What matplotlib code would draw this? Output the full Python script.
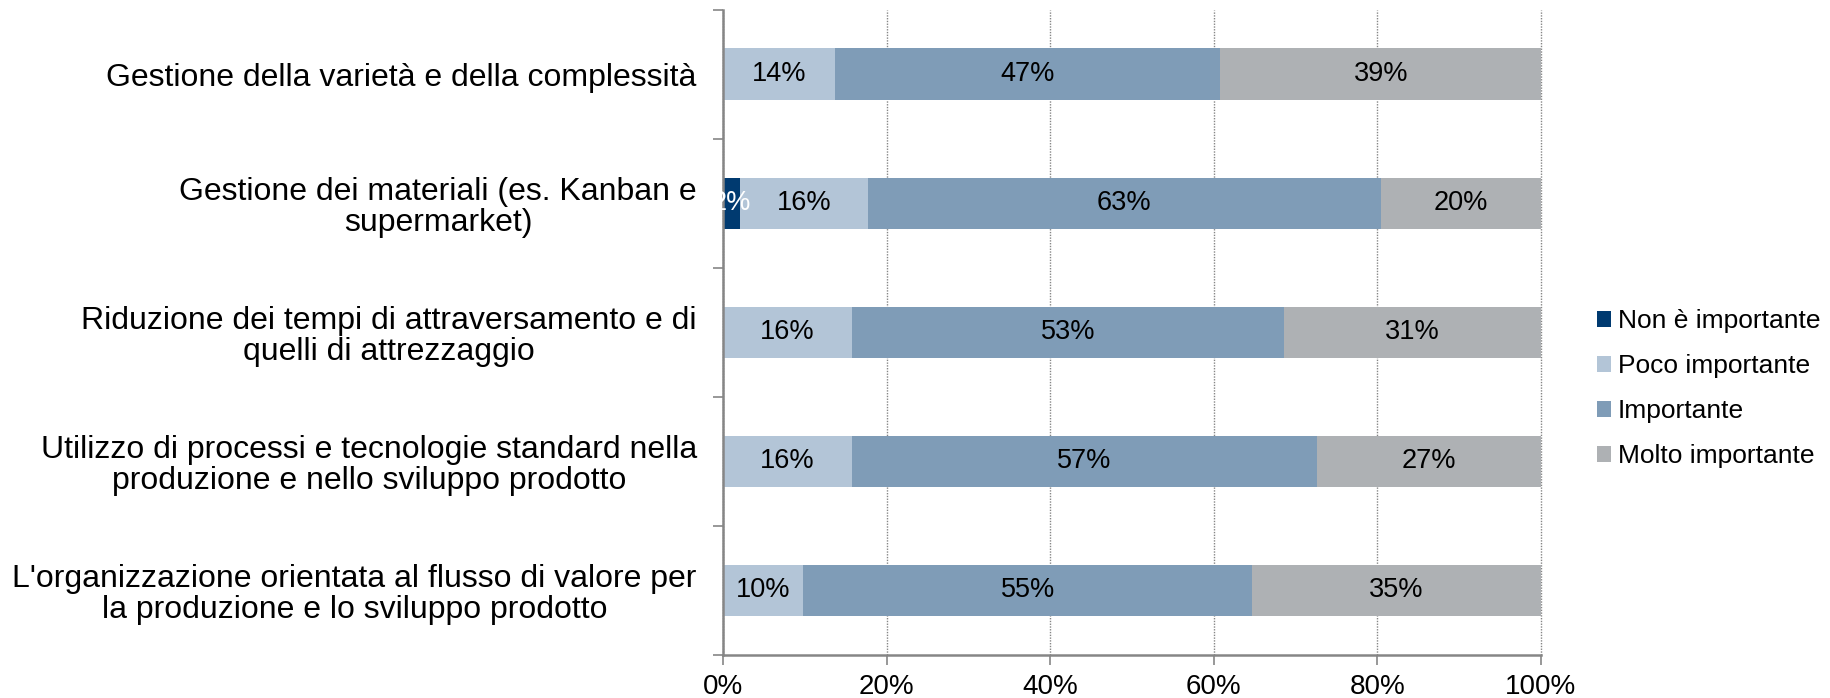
import matplotlib.pyplot as plt
import numpy as np

plt.rcParams['font.family'] = ['Liberation Sans', 'DejaVu Sans']

categories = [
	"Gestione della varietà e della complessità",
	"Gestione dei materiali (es. Kanban e\nsupermarket)",
	"Riduzione dei tempi di attraversamento e di\nquelli di attrezzaggio",
	"Utilizzo di processi e tecnologie standard nella\nproduzione e nello sviluppo prodotto",
	"L'organizzazione orientata al flusso di valore per\nla produzione e lo sviluppo prodotto",
]
series_names = ["Non è importante", "Poco importante", "Importante", "Molto importante"]
non_importante = [0.0, 2.0, 0.0, 0.0, 0.0]
poco_importante = [13.7, 15.7, 15.7, 15.7, 9.8]
importante = [47.1, 62.7, 52.9, 56.9, 54.9]
molto_importante = [39.2, 19.6, 31.4, 27.4, 35.3]
x_ticks = [0, 20, 40, 60, 80, 100]

colors = ["#003A70", "#B3C5D7", "#7F9CB7", "#AEB1B4"]
text_colors = ["white", "black", "black", "black"]

fig = plt.figure(figsize=(18.31, 6.98), dpi=100)
ax = fig.add_axes([0.395, 0.0616, 0.4466, 0.9244])

y = np.arange(len(categories))
left = np.zeros(len(categories))
handles = []
for name, vals, col, tcol in zip(series_names,
		[non_importante, poco_importante, importante, molto_importante],
		colors, text_colors):
	vals = np.array(vals)
	bars = ax.barh(y, vals, left=left, height=0.4, color=col, label=name, zorder=2)
	handles.append(bars)
	for yi, l, v in zip(y, left, vals):
		if v > 0:
			ax.text(l + v / 2, yi, f"{v:.0f}%", ha="center", va="center",
				fontsize=19.5, color=tcol, zorder=3)
	left += vals

ax.set_xlim(0, 100)
ax.set_ylim(len(categories) - 0.5, -0.5)
ax.set_xticks(x_ticks, labels=[f"{t}%" for t in x_ticks], fontsize=20)
ax.set_yticks(y, labels=categories, fontsize=23, multialignment="center", linespacing=1.05)
ax.set_yticks(np.arange(-0.5, len(categories)), minor=True)
ax.tick_params(axis="y", which="major", length=0, pad=19)
ax.tick_params(axis="y", which="minor", length=7, color="#868686", width=1.2)
ax.tick_params(axis="x", length=7, color="#868686", width=1.2, pad=7)

for side in ["top", "right"]:
	ax.spines[side].set_visible(False)
for side in ["left", "bottom"]:
	ax.spines[side].set_color("#868686")
	ax.spines[side].set_linewidth(1.8)

ax.grid(True, axis="x", linestyle=(0, (1, 1)), color="#868686", linewidth=1.0, zorder=1)
for line in ax.get_xgridlines():
	line.set_zorder(2.5)
	line.set_clip_on(False)

fig.legend(handles=handles, labels=series_names, loc="center left",
	bbox_to_anchor=(0.872, 0.443), frameon=False, fontsize=19,
	handlelength=0.55, handleheight=0.55, handletextpad=0.25, labelspacing=0.8,
	borderaxespad=0, borderpad=0)

fig.savefig("out.png", dpi=100)
